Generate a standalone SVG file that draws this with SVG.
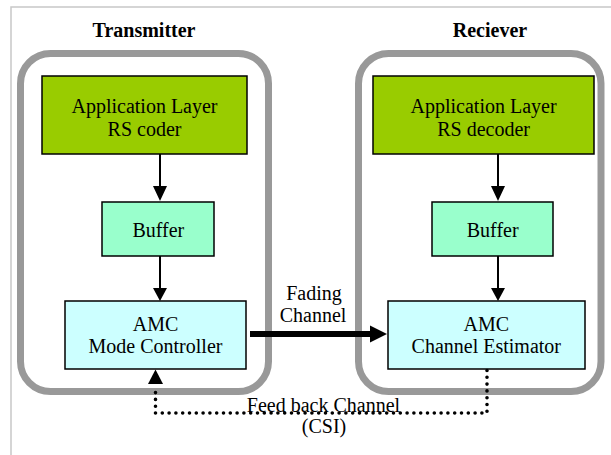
<svg xmlns="http://www.w3.org/2000/svg" width="611" height="455" viewBox="0 0 611 455">
<style>
text{font-family:'Liberation Serif','DejaVu Serif',serif;font-size:20px;fill:#000;text-anchor:middle}
.title{font-weight:bold}
.group{fill:none;stroke:#999999;stroke-width:7}
.box{stroke:#000;stroke-width:1.5}
.app{fill:#99CC00}
.buf{fill:#99FFCC}
.amc{fill:#CCFFFF}
.line{stroke:#000;fill:none}
</style>
<rect width="611" height="455" fill="#fff"/>
<path d="M11,455 V7 H611" fill="none" stroke="#c8c8c8" stroke-width="1.5"/>
<g id="transmitter">
<rect class="group" x="20.5" y="53.5" width="248" height="338" rx="30"/>
<text class="title" x="144" y="37">Transmitter</text>
</g>
<g id="receiver">
<rect class="group" x="358.5" y="53.5" width="242.5" height="338" rx="30"/>
<text class="title" x="490" y="37">Reciever</text>
</g>
<g id="tx-app">
<rect class="box app" x="42" y="76" width="205" height="78"/>
<text x="144.5" y="112.5">Application Layer</text>
<text x="144.5" y="136">RS coder</text>
</g>
<g id="tx-buffer">
<rect class="box buf" x="102" y="202" width="112" height="54"/>
<text x="158.3" y="237">Buffer</text>
</g>
<g id="tx-amc">
<rect class="box amc" x="65" y="301" width="181" height="68"/>
<text x="155.5" y="331">AMC</text>
<text x="155.5" y="353">Mode Controller</text>
</g>
<g id="rx-app">
<rect class="box app" x="373" y="76" width="221" height="78"/>
<text x="483.6" y="112.5">Application Layer</text>
<text x="483.6" y="136">RS decoder</text>
</g>
<g id="rx-buffer">
<rect class="box buf" x="432" y="202" width="121" height="54"/>
<text x="492.7" y="237">Buffer</text>
</g>
<g id="rx-amc">
<rect class="box amc" x="388" y="301" width="197" height="68"/>
<text x="486.3" y="331">AMC</text>
<text x="486.3" y="353">Channel Estimator</text>
</g>
<g id="connectors">
<line class="line" x1="160" y1="154" x2="160" y2="187" stroke-width="2"/>
<polygon points="153,186 167,186 160,201"/>
<line class="line" x1="160" y1="256" x2="160" y2="289" stroke-width="2"/>
<polygon points="153,288 167,288 160,301"/>
<line class="line" x1="498" y1="154" x2="498" y2="187" stroke-width="2"/>
<polygon points="491,186 505,186 498,201"/>
<line class="line" x1="498" y1="256" x2="498" y2="289" stroke-width="2"/>
<polygon points="491,288 505,288 498,301"/>
<line class="line" x1="250" y1="334" x2="371" y2="334" stroke-width="6"/>
<polygon points="370,325.5 387,334 370,342.5"/>
<path d="M487,370.5 V413 H155.5 V386" fill="none" stroke="#000" stroke-width="3.6" stroke-linecap="round" stroke-dasharray="0 6.8"/>
<polygon points="148,384 163,384 155.5,369.5"/>
<text x="314" y="300">Fading</text>
<text x="313" y="322">Channel</text>
<text x="323.5" y="412">Feed back Channel</text>
<text x="324" y="433">(CSI)</text>
</g>
</svg>
